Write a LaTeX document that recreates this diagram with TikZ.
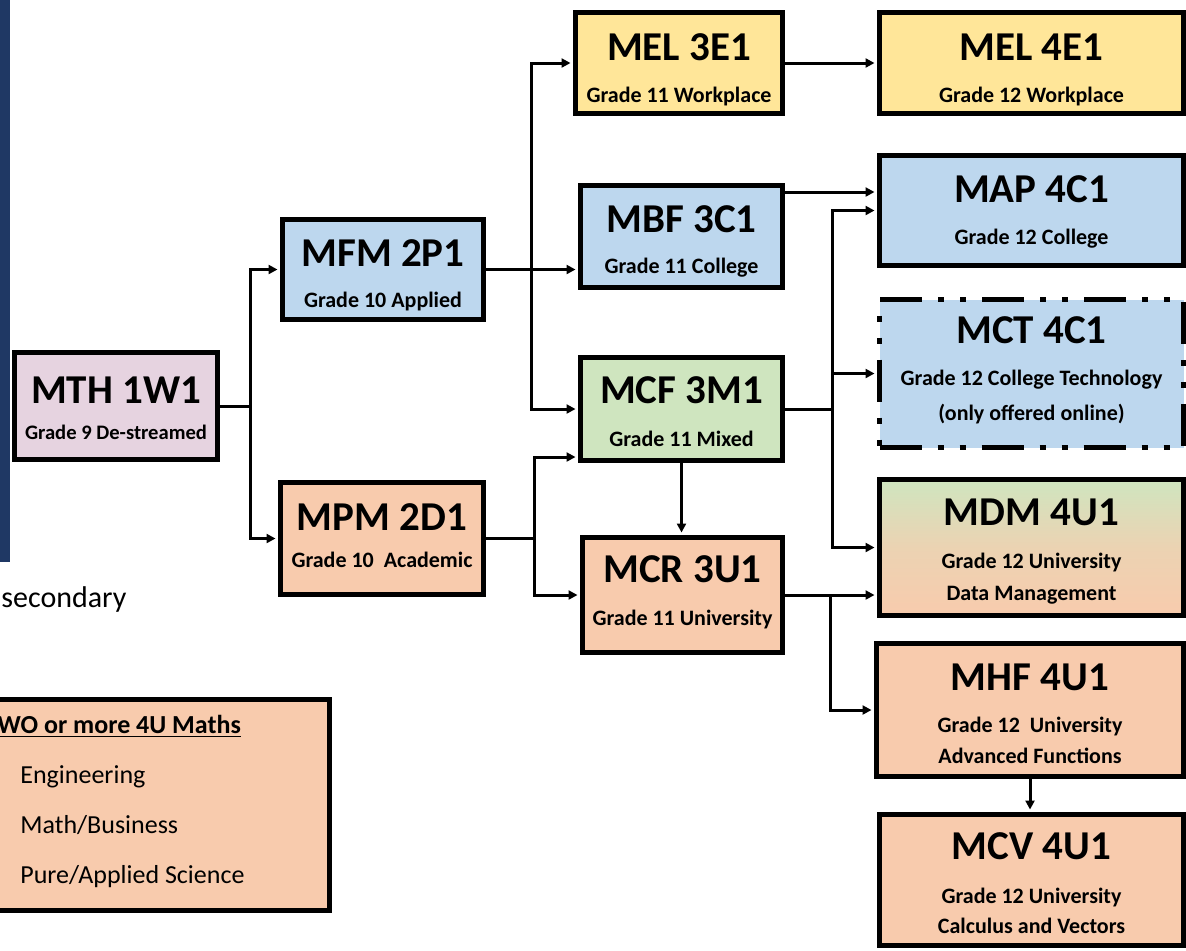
\documentclass[tikz,border=0pt]{standalone}
\usepackage{fontspec}
\setmainfont{Carlito}
\usetikzlibrary{arrows.meta,calc}
\definecolor{cpink}{HTML}{E6D3E0}
\definecolor{cblue}{HTML}{BDD7EE}
\definecolor{cpeach}{HTML}{F8CBAD}
\definecolor{cyellow}{HTML}{FFE699}
\definecolor{cgreen}{HTML}{CFE5BF}
\definecolor{cnavy}{HTML}{1F3864}
\begin{document}
\begin{tikzpicture}[x=0.5pt,y=-0.5pt,
 course/.style={draw=black, line width=2.5pt, rectangle, inner sep=0pt},
 ttl/.style={font=\fontsize{20.5}{24}\selectfont\bfseries, inner sep=0pt, anchor=base},
 sub/.style={font=\fontsize{11}{13}\selectfont\bfseries, inner sep=0pt, anchor=base},
 conn/.style={line width=1.5pt},
 arr/.style={conn, -{Triangle[length=4.5pt,width=4.5pt]}, shorten >=1.25pt},
 lgd/.style={font=\fontsize{13}{15}\selectfont, anchor=base west, inner sep=0pt}]
\useasboundingbox (0,0) rectangle (1186,950);
\fill[white] (0,0) rectangle (1186,950);

% left navy bar
\fill[cnavy] (0,0) rectangle (10,562);
\node[font=\fontsize{15}{18}\selectfont, anchor=base west, inner sep=0pt] (sec) at (1,607) {secondary};

% legend box
\node[course, fill=cpeach, minimum width=174.75pt, minimum height=105.5pt] (lgdbox) at (154.75,805) {};
\node[lgd, font=\fontsize{13}{15}\selectfont\bfseries] (l0) at (-3,733) {\underline{WO or more 4U Maths}};
\node[lgd] (l1) at (20,783) {Engineering};
\node[lgd] (l2) at (20,833) {Math/Business};
\node[lgd] (l3) at (20,883) {Pure/Applied Science};

% course boxes
\node[course, fill=cpink, minimum width=101.5pt, minimum height=53.5pt] (mth) at (116,406) {};
\node[ttl] (mthT) at (116,403) {MTH 1W1};
\node[sub, font=\fontsize{10.3}{12}\selectfont\bfseries] (mthS) at (116,439) {Grade 9 De-streamed};

\node[course, fill=cblue, minimum width=100.5pt, minimum height=50pt] (mfm) at (383,269.5) {};
\node[ttl] (mfmT) at (383,266) {MFM 2P1};
\node[sub] (mfmS) at (383,307) {Grade 10 Applied};

\node[course, fill=cpeach, minimum width=101.5pt, minimum height=56pt] (mpm) at (382,538.5) {};
\node[ttl] (mpmT) at (382,530) {MPM 2D1};
\node[sub] (mpmS) at (382,567) {Grade 10\ \ Academic};

\node[course, fill=cyellow, minimum width=103.5pt, minimum height=50.5pt] (mel3) at (679,63) {};
\node[ttl] (mel3T) at (679,60) {MEL 3E1};
\node[sub] (mel3S) at (679,102) {Grade 11 Workplace};

\node[course, fill=cblue, minimum width=101pt, minimum height=51pt] (mbf) at (681.5,236.5) {};
\node[ttl] (mbfT) at (681.5,232) {MBF 3C1};
\node[sub] (mbfS) at (681.5,273) {Grade 11 College};

\node[course, fill=cgreen, minimum width=101pt, minimum height=51.5pt] (mcf) at (681.5,409) {};
\node[ttl] (mcfT) at (681.5,403) {MCF 3M1};
\node[sub] (mcfS) at (681.5,446) {Grade 11 Mixed};

\node[course, fill=cpeach, minimum width=100pt, minimum height=57.5pt] (mcr) at (682.5,595) {};
\node[ttl] (mcrT) at (682.5,582) {MCR 3U1};
\node[sub] (mcrS) at (682.5,625) {Grade 11 University};

\node[course, fill=cyellow, minimum width=152pt, minimum height=50.5pt] (mel4) at (1031.5,63) {};
\node[ttl] (mel4T) at (1031.5,60) {MEL 4E1};
\node[sub] (mel4S) at (1031.5,102) {Grade 12 Workplace};

\node[course, fill=cblue, minimum width=152pt, minimum height=55pt] (map) at (1031.5,210.5) {};
\node[ttl] (mapT) at (1031.5,202) {MAP 4C1};
\node[sub] (mapS) at (1031.5,244) {Grade 12 College};

\node[course, fill=cblue, dash pattern=on 21pt off 8pt on 3pt off 8pt on 3pt off 8pt, minimum width=152pt, minimum height=74pt] (mct) at (1031.5,373.5) {};
\node[ttl] (mctT) at (1031.5,343) {MCT 4C1};
\node[sub] (mctS1) at (1031.5,385) {Grade 12 College Technology};
\node[sub] (mctS2) at (1031.5,420) {(only offered online)};

\node[course, top color=cgreen, bottom color=cpeach, middle color=cpeach!70!cgreen, minimum width=152pt, minimum height=68pt] (mdm) at (1031.5,547.5) {};
\node[ttl] (mdmT) at (1031.5,525) {MDM 4U1};
\node[sub] (mdmS1) at (1031.5,568) {Grade 12 University};
\node[sub] (mdmS2) at (1031.5,600) {Data Management};

\node[course, fill=cpeach, minimum width=153.5pt, minimum height=66.5pt] (mhf) at (1030,710) {};
\node[ttl] (mhfT) at (1030,690) {MHF 4U1};
\node[sub] (mhfS1) at (1030,732) {Grade 12\ \ University};
\node[sub] (mhfS2) at (1030,763) {Advanced Functions};

\node[course, fill=cpeach, minimum width=152pt, minimum height=65.5pt] (mcv) at (1031.5,880) {};
\node[ttl] (mcvT) at (1031.5,859) {MCV 4U1};
\node[sub] (mcvS1) at (1031.5,903) {Grade 12 University};
\node[sub] (mcvS2) at (1031.5,933) {Calculus and Vectors};

% connectors
\coordinate (j1) at ($(mth.east)+(30,0)$);
\draw[conn] (mth.east) -- (j1);
\draw[arr] (j1) |- (mfm.west);
\draw[arr] (j1) |- (mpm.west);

\coordinate (j2) at ($(mfm.east)+(45,0)$);
\draw[arr] (mfm.east) -- (mfm.east -| mbf.west);
\draw[arr] (j2) |- (mel3.west);
\draw[arr] (j2) |- (mcf.west);

\coordinate (j3) at ($(mpm.east)+(48,0)$);
\coordinate (mcfin) at ($(mcf.south west)+(0,-6)$);
\draw[conn] (mpm.east) -- (j3);
\draw[arr] (j3) |- (mcfin);
\draw[arr] (j3) |- (mcr.west);

\draw[arr] (mcf.south) -- (mcf.south |- mcr.north);

\draw[arr] (mel3.east) -- (mel4.west);

\coordinate (mbfout) at ($(mbf.north east)+(0,9)$);
\draw[arr] (mbfout) -- (mbfout -| map.west);

\coordinate (j4) at ($(mcf.east)+(47,0)$);
\draw[conn] (mcf.east) -- (j4);
\draw[arr] (j4) |- (map.west);
\draw[arr] (j4) |- (mct.west);
\draw[arr] (j4) |- (mdm.west);

\coordinate (j5) at ($(mcr.east)+(45,0)$);
\draw[arr] (mcr.east) -- (mcr.east -| mdm.west);
\draw[arr] (j5) |- (mhf.west);

\draw[arr] (mhf.south) -- (mhf.south |- mcv.north);
\end{tikzpicture}
\end{document}
